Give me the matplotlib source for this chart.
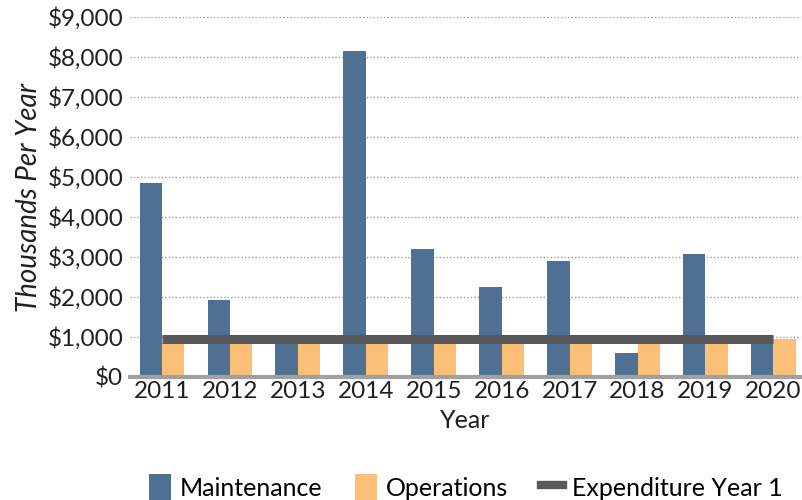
import numpy as np
import matplotlib.pyplot as plt
from matplotlib.patches import Patch
from matplotlib.lines import Line2D
from matplotlib.ticker import FuncFormatter

# ---- data ----
years = ['2011', '2012', '2013', '2014', '2015', '2016', '2017', '2018', '2019', '2020']
maintenance = [4840, 1930, 860, 8150, 3210, 2240, 2910, 600, 3080, 860]
operations = [840, 840, 840, 840, 840, 840, 840, 840, 840, 940]
expenditure_year1 = [960] * len(years)

MAINT_COLOR = '#4e7193'
OPS_COLOR = '#fbbf77'
LINE_COLOR = '#58585a'
TEXT_COLOR = '#231f20'

plt.rcParams['font.family'] = ['Lato', 'DejaVu Sans']

fig = plt.figure(figsize=(8.03, 5.0), dpi=100)
ax = fig.add_axes([0.162, 0.246, 0.835, 0.72])

x = np.arange(len(years))
w = 0.33
ax.bar(x - w / 2, maintenance, width=w, color=MAINT_COLOR, zorder=2)
ax.bar(x + w / 2, operations, width=w, color=OPS_COLOR, zorder=2)
ax.plot(x, expenditure_year1, color=LINE_COLOR, linewidth=6.5, solid_capstyle='butt', zorder=3)

ax.set_ylim(0, 9000)
ax.set_xlim(-0.47, 9.4)
ax.set_yticks(np.arange(0, 9001, 1000))
ax.yaxis.set_major_formatter(FuncFormatter(lambda v, p: f'${v:,.0f}'))
ax.set_xticks(x)
ax.set_xticklabels(years)

ax.grid(axis='y', linestyle=(0, (1, 1.5)), color='#9a9a9a', linewidth=1.0, zorder=0)
for s in ['top', 'right', 'left']:
    ax.spines[s].set_visible(False)
ax.spines['bottom'].set_color('#a0a0a0')
ax.spines['bottom'].set_linewidth(3)
ax.spines['bottom'].set_zorder(4)
ax.tick_params(axis='y', length=0, labelsize=17.5, colors=TEXT_COLOR, pad=5)
ax.tick_params(axis='x', length=0, labelsize=17.5, colors=TEXT_COLOR, pad=3)

ax.set_ylabel('Thousands Per Year', fontsize=20, style='italic', color=TEXT_COLOR, labelpad=4)
ax.set_xlabel('Year', fontsize=18, color=TEXT_COLOR, labelpad=5)

handles = [
    Patch(facecolor=MAINT_COLOR, label='Maintenance'),
    Patch(facecolor=OPS_COLOR, label='Operations'),
    Line2D([0], [0], color=LINE_COLOR, linewidth=6, label='Expenditure Year 1'),
]
fig.legend(handles=handles, loc='lower center', bbox_to_anchor=(0.58, -0.045), ncol=3,
           frameon=False, fontsize=18, handlelength=0.9, handleheight=1.2,
           handletextpad=0.35, columnspacing=1.3)

fig.savefig('out.png', dpi=100)
